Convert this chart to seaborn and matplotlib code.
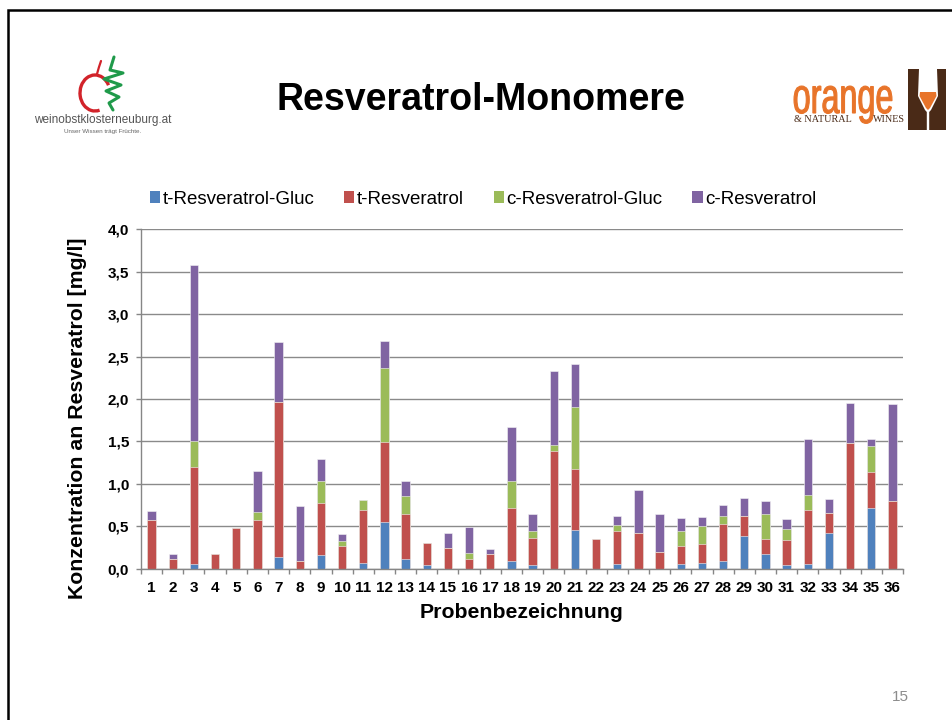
import numpy as np
import pandas as pd
import matplotlib
matplotlib.use("Agg")
import matplotlib.pyplot as plt
import seaborn as sns
from matplotlib.patches import Patch, Rectangle, Polygon, Arc, PathPatch
from matplotlib.textpath import TextPath
from matplotlib.font_manager import FontProperties
from matplotlib.transforms import Affine2D

# ---------------- data ----------------
samples = [str(i) for i in range(1, 37)]
t_res_gluc = [0.00, 0.00, 0.05, 0.00, 0.00, 0.00, 0.14, 0.00, 0.16, 0.00,
              0.07, 0.55, 0.12, 0.04, 0.00, 0.00, 0.00, 0.09, 0.04, 0.00,
              0.46, 0.00, 0.06, 0.00, 0.00, 0.06, 0.07, 0.09, 0.38, 0.17,
              0.04, 0.06, 0.42, 0.00, 0.72, 0.00]
t_res = [0.57, 0.11, 1.15, 0.17, 0.48, 0.57, 1.83, 0.09, 0.62, 0.27,
         0.62, 0.94, 0.53, 0.26, 0.24, 0.12, 0.17, 0.63, 0.32, 1.39,
         0.72, 0.35, 0.38, 0.42, 0.20, 0.21, 0.22, 0.44, 0.24, 0.18,
         0.30, 0.63, 0.24, 1.48, 0.42, 0.80]
c_res_gluc = [0.00, 0.00, 0.31, 0.00, 0.00, 0.10, 0.00, 0.00, 0.25, 0.06,
              0.12, 0.88, 0.21, 0.00, 0.00, 0.07, 0.00, 0.31, 0.09, 0.07,
              0.73, 0.00, 0.07, 0.00, 0.00, 0.18, 0.21, 0.09, 0.00, 0.30,
              0.13, 0.18, 0.00, 0.00, 0.31, 0.00]
c_res = [0.11, 0.06, 2.07, 0.00, 0.00, 0.48, 0.70, 0.65, 0.26, 0.08,
         0.00, 0.31, 0.17, 0.00, 0.18, 0.30, 0.06, 0.64, 0.20, 0.87,
         0.50, 0.00, 0.11, 0.51, 0.45, 0.15, 0.11, 0.13, 0.21, 0.15,
         0.11, 0.66, 0.16, 0.47, 0.08, 1.14]
series_names = ["t-Resveratrol-Gluc", "t-Resveratrol", "c-Resveratrol-Gluc", "c-Resveratrol"]
series_colors = ["#4F81BD", "#C0504D", "#9BBB59", "#8064A2"]
y_ticks = [0.0, 0.5, 1.0, 1.5, 2.0, 2.5, 3.0, 3.5, 4.0]
y_tick_labels = ["0,0", "0,5", "1,0", "1,5", "2,0", "2,5", "3,0", "3,5", "4,0"]

title = "Resveratrol-Monomere"
y_label = "Konzentration an Resveratrol [mg/l]"
x_label = "Probenbezeichnung"
page_no = "15"

# ---------------- style ----------------
sns.set_theme(style="white")
plt.rcParams["font.family"] = ["Liberation Sans", "DejaVu Sans"]
plt.rcParams["text.color"] = "black"
plt.rcParams["axes.labelcolor"] = "black"
plt.rcParams["xtick.color"] = "black"
plt.rcParams["ytick.color"] = "black"

df = pd.DataFrame({"Probe": samples, "s1": t_res_gluc, "s2": t_res,
                   "s3": c_res_gluc, "s4": c_res})
df["c1"] = df["s1"]
df["c2"] = df["c1"] + df["s2"]
df["c3"] = df["c2"] + df["s3"]
df["c4"] = df["c3"] + df["s4"]

W, H = 953, 720
fig = plt.figure(figsize=(W / 100, H / 100), dpi=100)
fig.patch.set_facecolor("white")

# decoration layer in pixel coords
deco = fig.add_axes([0, 0, 1, 1], zorder=0)
deco.set_xlim(0, W)
deco.set_ylim(H, 0)
deco.axis("off")
deco.patch.set_alpha(0)

# main chart
y0_px, y4_px = 568.7, 229.3
ax = fig.add_axes([141 / W, 1 - y0_px / H, 762 / W, (y0_px - y4_px) / H], zorder=1)
ax.set_facecolor("none")

for col, color in reversed(list(zip(["c1", "c2", "c3", "c4"], series_colors))):
    sns.barplot(data=df, x="Probe", y=col, order=samples, color=color,
                width=0.4, saturation=1, errorbar=None,
                edgecolor="#f4f4f4", linewidth=0.4, ax=ax)

ax.set_xlim(-0.5, 35.5)
ax.set_ylim(0, 4.0)
ax.set_xlabel("")
ax.set_ylabel("")
ax.set_yticks(y_ticks)
ax.set_yticklabels(y_tick_labels, fontsize=11, fontweight="bold", color="black")
ax.set_xticks(range(len(samples)))
ax.set_xticklabels(samples, fontsize=11, fontweight="bold", color="black")
ax.set_xticks(np.arange(-0.5, len(samples), 1.0), minor=True)
ax.tick_params(axis="x", which="major", length=0, pad=8.5)
ax.tick_params(axis="x", which="minor", length=3.6, width=1, color="#868686",
               direction="out", bottom=True)
ax.tick_params(axis="y", which="major", length=3.6, width=1, color="#868686",
               direction="out", pad=5, left=True)
ax.set_axisbelow(True)
ax.yaxis.grid(True, color="#8a8a8a", linewidth=1.0)
ax.xaxis.grid(False)
for s in ["top", "right"]:
    ax.spines[s].set_visible(False)
for s in ["left", "bottom"]:
    ax.spines[s].set_color("#868686")
    ax.spines[s].set_linewidth(1.0)

# legend
handles = [Patch(facecolor=c, edgecolor="none") for c in series_colors]
leg = fig.legend(handles, series_names, loc="center", bbox_to_anchor=(483 / W, 1 - 199 / H),
                 ncol=4, frameon=False, fontsize=13.5, handlelength=0.55, handleheight=0.55,
                 handletextpad=0.12, columnspacing=1.6, borderpad=0, borderaxespad=0)
for t in leg.get_texts():
    t.set_color("black")

# texts
fig.text(481 / W, 1 - 100 / H, title, fontsize=27, fontweight="bold",
         ha="center", va="center", color="black")
fig.text(78 / W, 1 - 418 / H, y_label, fontsize=15.3, fontweight="bold",
         rotation=90, ha="center", va="center", color="black")
fig.text(522 / W, 1 - 613 / H, x_label, fontsize=15.3, fontweight="bold",
         ha="center", va="center", color="black")
fig.text(900 / W, 1 - 697 / H, page_no, fontsize=11, color="#8c8c8c",
         ha="center", va="center")

# slide border
deco.plot([8, 8, W + 5], [H + 5, 10, 10], color="black", lw=1.8, solid_joinstyle="miter")

# left logo (apple + swirl + text)
deco.add_patch(Arc((95, 93), 30, 36, theta1=75, theta2=330, color="#d2232a", lw=2.4))
deco.plot([97, 99, 101], [74, 67, 61], color="#d2232a", lw=1.6)
deco.plot([114, 110, 123, 104, 121, 106, 119, 109, 113],
          [57, 70, 73, 79, 85, 91, 97, 103, 110], color="#1f9a4a", lw=2.2,
          solid_capstyle="round", solid_joinstyle="round")
deco.text(103, 120, "weinobstklosterneuburg.at", fontsize=8.5, color="#555555",
          ha="center", va="center")
deco.text(103, 131, "Unser Wissen trägt Früchte.", fontsize=4.5, color="#666666",
          ha="center", va="center")

# right logo: "orange" stretched to the logo's condensed look
tp = TextPath((0, 0), "orange", size=1, prop=FontProperties(family="Liberation Sans"))
ext = tp.get_extents()
sx = (892 - 794) / ext.width
sy = 26 / 0.519
tr = Affine2D().translate(-ext.x0, 0).scale(sx, -sy).translate(794, 113) + deco.transData
deco.add_patch(PathPatch(tp, facecolor="#e8742a", edgecolor="#e8742a", lw=0.8, transform=tr))
deco.text(794, 120, "& NATURAL", fontsize=7.3, color="#4a2a17", ha="left", va="center",
          family=["Liberation Serif", "DejaVu Serif"])
deco.text(905, 120, "WINES", fontsize=7.3, color="#4a2a17", ha="right", va="center",
          family=["Liberation Serif", "DejaVu Serif"])
deco.add_patch(Rectangle((908, 69), 38, 61, facecolor="#4a2a17", edgecolor="none"))
deco.add_patch(Polygon([(919, 69), (937, 69), (938, 96), (931, 110), (929.2, 112),
                        (929.2, 130), (926.8, 130), (926.8, 112), (925, 110), (918, 96)],
                       closed=True, facecolor="white", edgecolor="none"))
deco.add_patch(Polygon([(920, 92), (936, 92), (936.5, 96), (930, 108), (928, 110),
                        (926, 108), (919.5, 96)],
                       closed=True, facecolor="#e8742a", edgecolor="none"))

fig.savefig("out.png", dpi=100)
